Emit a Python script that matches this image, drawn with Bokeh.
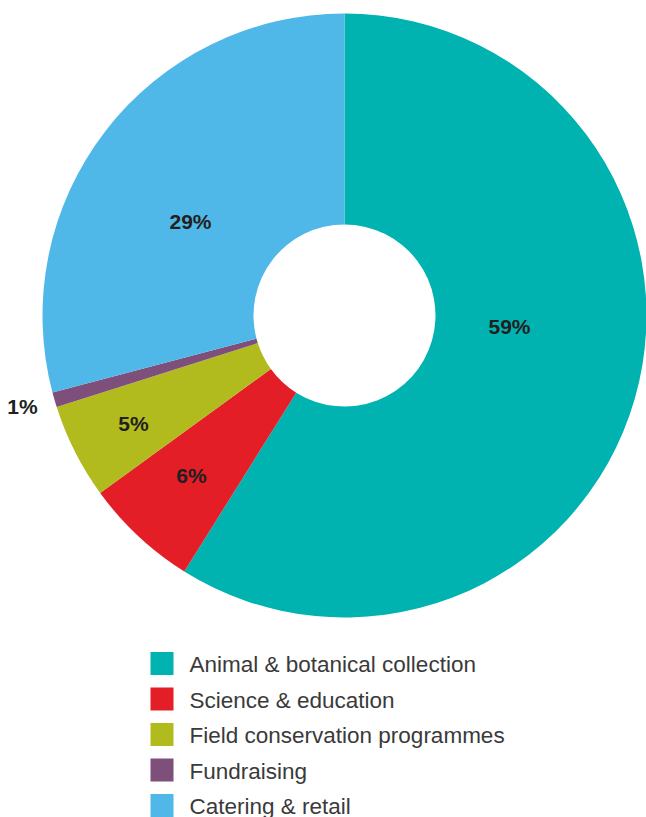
import numpy as np
from bokeh.plotting import figure
from bokeh.models import Range1d, ColumnDataSource
from bokeh.core.properties import value
from bokeh.embed import file_html
from bokeh.resources import INLINE

# ---- data ----
categories = ["Animal & botanical collection", "Science & education",
              "Field conservation programmes", "Fundraising", "Catering & retail"]
shares = [58.9, 6.1, 5.1, 0.8, 29.1]
labels = ["59%", "6%", "5%", "1%", "29%"]
colors = ["#00b2b0", "#e31e26", "#b1bb1e", "#7e4f7a", "#4fb8e8"]

# ---- layout / style ----
W, H = 646, 817
cx, cy = 344, H - 315
R_OUT, R_IN = 302, 91
# label offsets from centre (px, x right, y up)
label_dx = [165, -153, -211, -322, -154]
label_dy = [-12, -161, -109, -92, 93]

p = figure(width=W, height=H, x_range=Range1d(0, W), y_range=Range1d(0, H),
           output_backend="svg", toolbar_location=None, min_border=0)
p.axis.visible = False
p.grid.visible = False
p.outline_line_color = None
p.background_fill_color = "white"
p.border_fill_color = "white"

frac = np.array(shares) / sum(shares)
cum = np.concatenate([[0], np.cumsum(frac)])
start = np.pi / 2 - 2 * np.pi * cum[:-1]
end = np.pi / 2 - 2 * np.pi * cum[1:]

src = ColumnDataSource(dict(x=[cx] * 5, y=[cy] * 5, start=start, end=end,
                            color=colors))
p.annular_wedge(x="x", y="y", inner_radius=R_IN, outer_radius=R_OUT,
                start_angle="start", end_angle="end", direction="clock",
                color="color", line_color=None, source=src)

lsrc = ColumnDataSource(dict(x=[cx + d for d in label_dx],
                             y=[cy + d + 1 for d in label_dy], t=labels))
p.text(x="x", y="y", text="t", source=lsrc, text_align="center",
       text_baseline="alphabetic", text_font=value("Liberation Sans"),
       text_font_style="bold", text_font_size="21px", text_color="#231f20")

# legend
lx, ly0, step = 161.5, H - 663, 35.5
ys = [ly0 - i * step for i in range(len(categories))]
p.rect(x=[lx] * 5, y=ys, width=23, height=23, color=colors, line_color=None)
p.text(x=[189] * 5, y=[v - 1 for v in ys], text=categories,
       text_align="left", text_baseline="alphabetic",
       text_font=value("Liberation Sans"), text_font_size="22.5px",
       text_color="#3a3a3a")

open("out.html", "w").write(file_html(p, INLINE))
